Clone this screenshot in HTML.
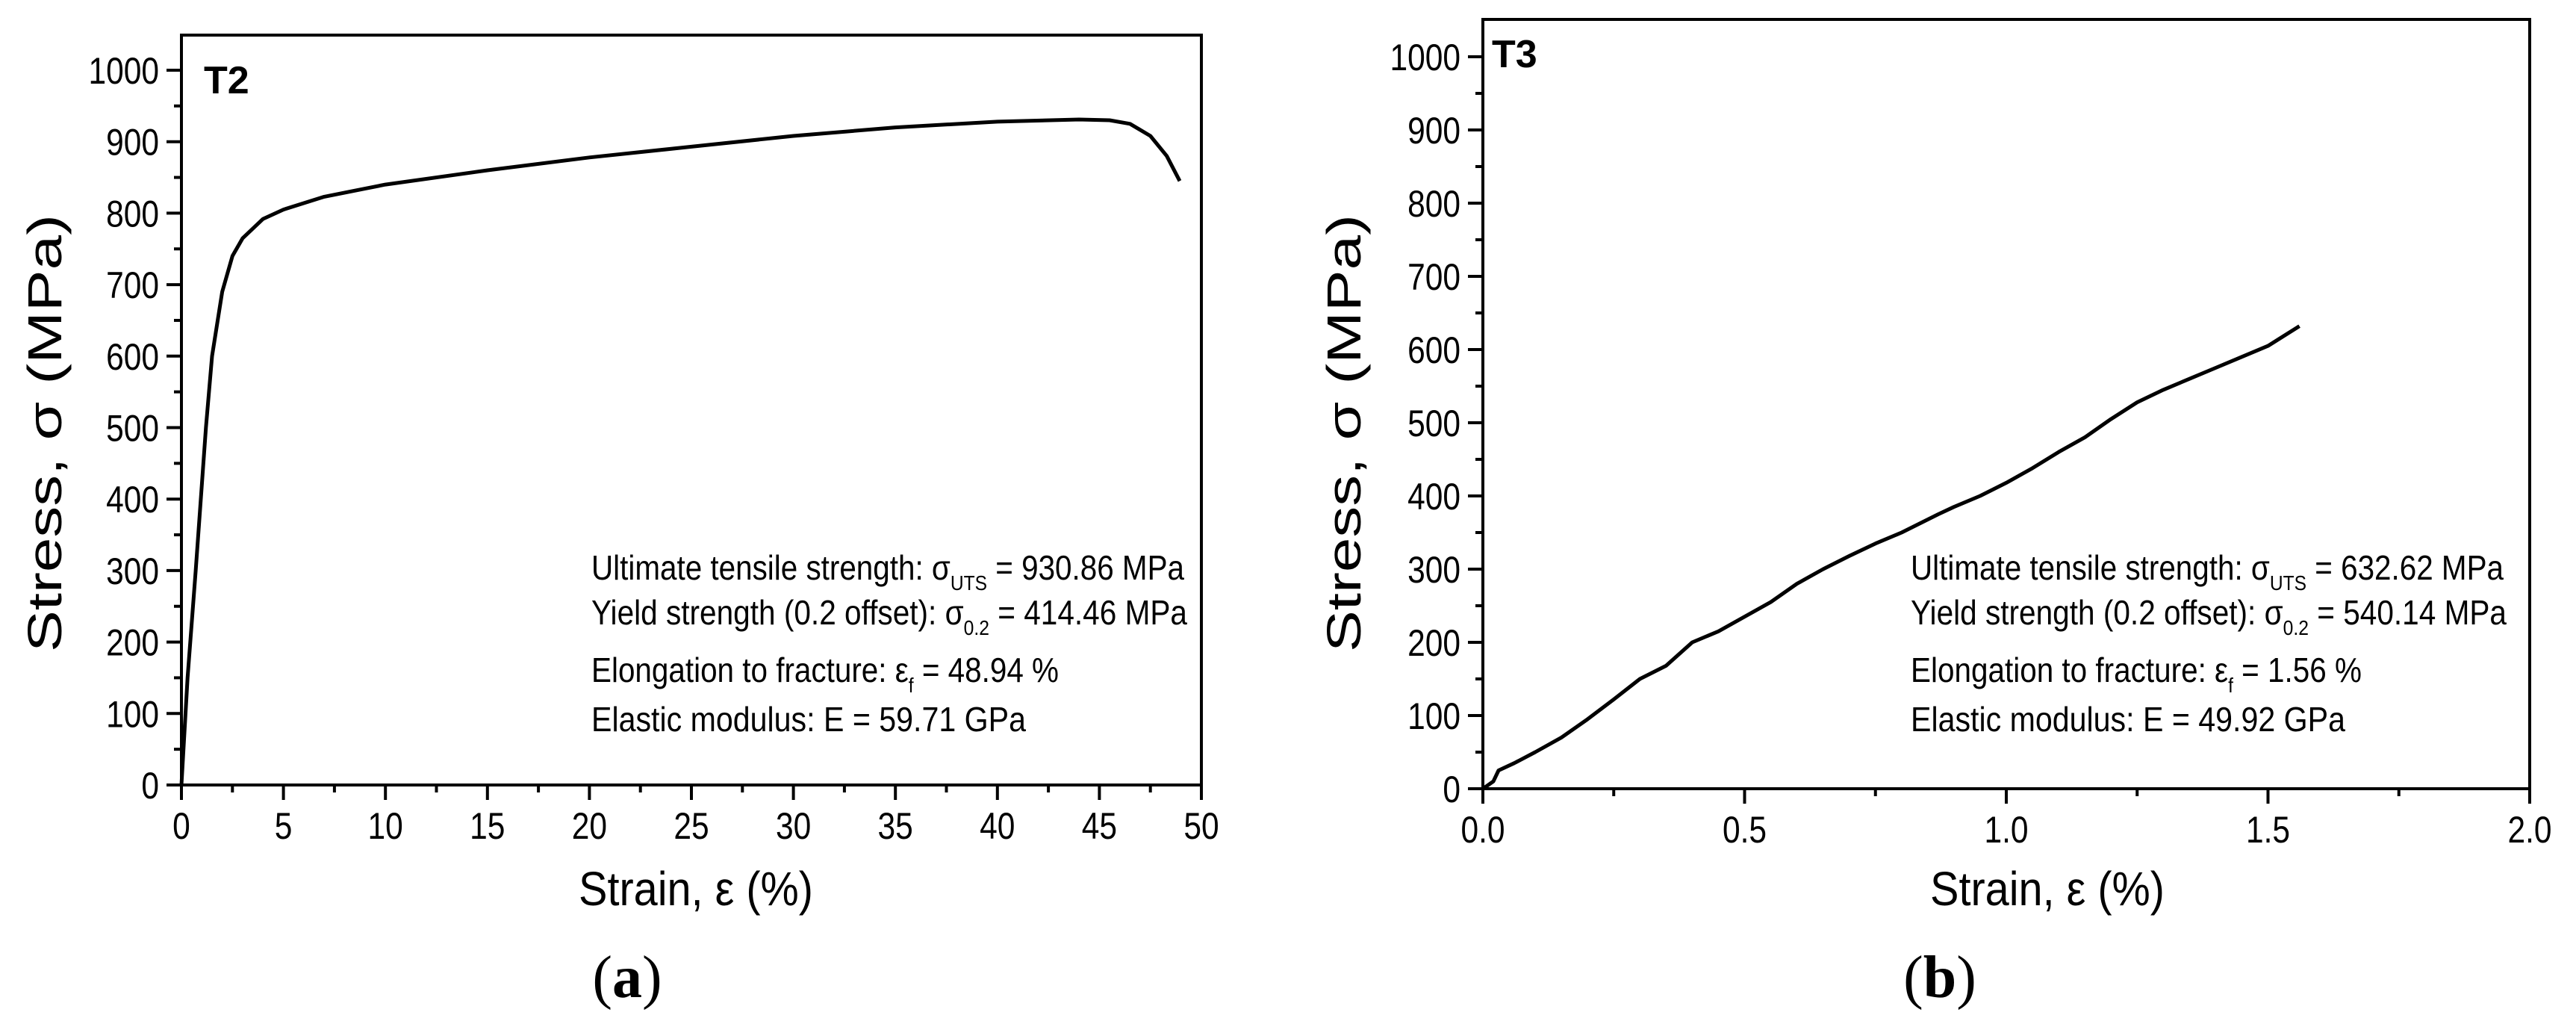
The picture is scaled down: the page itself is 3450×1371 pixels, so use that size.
<!DOCTYPE html>
<html><head><meta charset="utf-8"><style>
html,body{margin:0;padding:0;background:#fff}
svg{display:block}
text{font-family:"Liberation Sans",sans-serif;fill:#000}
</style></head><body>
<svg id="svg" width="3450" height="1371" viewBox="0 0 3450 1371" xmlns="http://www.w3.org/2000/svg">
<g id="pa"></g>
<g id="pb"></g>
</svg>
<script>
const strainA=[0,0.3,0.7,1.2,1.5,2,2.5,3,4,5,7,10,15,20,25,30,35,40,44,45.5,46.5,47.5,48.3,48.94];
const stressA=[0,150,300,500,600,690,740,765,792,805,823,840,860,878,893,908,920,928,931,930,925,908,880,845];
const strainB=[0,0.02,0.03,0.06,0.1,0.15,0.2,0.25,0.3,0.35,0.4,0.45,0.5,0.55,0.6,0.65,0.7,0.75,0.8,0.87,0.9,0.95,1.0,1.05,1.1,1.15,1.2,1.25,1.3,1.35,1.4,1.45,1.5,1.56];
const stressB=[0,10,25,35,50,70,95,122,150,168,200,215,235,255,280,300,318,335,350,375,385,400,418,438,460,480,505,528,545,560,575,590,605,632];
const yTicks=[0,100,200,300,400,500,600,700,800,900,1000];
const xTicksA=[0,5,10,15,20,25,30,35,40,45,50];
const xTicksB=[0,0.5,1.0,1.5,2.0];
const xLabelsB=["0.0","0.5","1.0","1.5","2.0"];
const annA=["Ultimate tensile strength: ","Yield strength (0.2 offset): ","Elongation to fracture: ","Elastic modulus: E = 59.71 GPa"];
const annA2=[["σ","UTS"," = 930.86 MPa"],["σ","0.2"," = 414.46 MPa"],["ε","f"," = 48.94 %"],null];
const annB=["Ultimate tensile strength: ","Yield strength (0.2 offset): ","Elongation to fracture: ","Elastic modulus: E = 49.92 GPa"];
const annB2=[["σ","UTS"," = 632.62 MPa"],["σ","0.2"," = 540.14 MPa"],["ε","f"," = 1.56 %"],null];
const NS="http://www.w3.org/2000/svg";
function mk(tag,attrs,parent){const e=document.createElementNS(NS,tag);for(const k in attrs)e.setAttribute(k,attrs[k]);parent.appendChild(e);return e;}
function squeeze(t,f){const w=t.getComputedTextLength();t.setAttribute('textLength',w*f);t.setAttribute('lengthAdjust','spacingAndGlyphs');}
function fit(t,w){t.setAttribute('textLength',w);t.setAttribute('lengthAdjust','spacingAndGlyphs');}
function panel(g,cfg){
  const X=v=>cfg.x0+(v-cfg.xmin)/(cfg.xmax-cfg.xmin)*(cfg.x1-cfg.x0);
  const Y=v=>cfg.yb-v*cfg.ppu;
  const fr=mk('rect',{x:cfg.x0,y:cfg.yt,width:cfg.x1-cfg.x0,height:cfg.yb-cfg.yt,fill:'none',stroke:'#000','stroke-width':4},g);
  
  
  yTicks.forEach(v=>{
    const l=mk('line',{x1:cfg.x0-20,x2:cfg.x0,y1:Y(v),y2:Y(v),stroke:'#000','stroke-width':4},g);
    
    
    if(v<1000){const m=mk('line',{x1:cfg.x0-10,x2:cfg.x0,y1:Y(v+50),y2:Y(v+50),stroke:'#000','stroke-width':4},g);
      
      }
    const t=mk('text',{x:cfg.x0-30,y:Y(v)+18,'text-anchor':'end','font-size':50},g);
    t.textContent=v;
    
    
    squeeze(t,0.85);
  });
  cfg.xt.forEach((v,i)=>{
    const l=mk('line',{x1:X(v),x2:X(v),y1:cfg.yb,y2:cfg.yb+20,stroke:'#000','stroke-width':4},g);
    
    
    if(i<cfg.xt.length-1){const mv=(v+cfg.xt[i+1])/2;
      const m=mk('line',{x1:X(mv),x2:X(mv),y1:cfg.yb,y2:cfg.yb+10,stroke:'#000','stroke-width':4},g);
      
      }
    const t=mk('text',{x:X(v),y:cfg.yb+72,'text-anchor':'middle','font-size':50},g);
    t.textContent=cfg.xl[i];
    
    
    squeeze(t,0.85);
  });
  const d=cfg.sx.map((v,i)=>(i?'L':'M')+X(v).toFixed(1)+','+Y(cfg.sy[i]).toFixed(1)).join(' ');
  const p=mk('path',{d:d,fill:'none',stroke:'#000','stroke-width':5,'stroke-linejoin':'round'},g);
  
  
  const tl=mk('text',{x:cfg.x0+cfg.tlx,y:cfg.tly,'font-size':52,'font-weight':'bold'},g);
  tl.textContent=cfg.tag;
  
  
  const xt=mk('text',{x:cfg.xtx,y:1212,'text-anchor':'middle','font-size':64},g);
  xt.textContent='Strain, ε (%)';
  
  
  fit(xt,314);
  const yt=mk('text',{x:0,y:0,'text-anchor':'middle','font-size':64,transform:`translate(${cfg.ytx},580) rotate(-90)`},g);
  yt.textContent='Stress, σ (MPa)';
  
  
  fit(yt,cfg.ytw);
  const ys=[776,836,913,979];
  cfg.a1.forEach((s,i)=>{
    const t=mk('text',{x:cfg.ax,y:ys[i],'font-size':46},g);
    
    
    const a=mk('tspan',{},t);a.textContent=s;
    const b=cfg.a2[i];
    if(b){const s1=mk('tspan',{},t);s1.textContent=b[0];
      const s2=mk('tspan',{'font-size':28,dy:14},t);s2.textContent=b[1];
      const s3=mk('tspan',{dy:-14},t);s3.textContent=b[2];}
    fit(t,cfg.aw[i]);
  });
  const c=mk('text',{x:cfg.cx,y:1335,'text-anchor':'middle','font-size':80,style:'font-family:"Liberation Serif",serif'},g);
  
  
  mk('tspan',{},c).textContent='(';
  mk('tspan',{'font-weight':'bold'},c).textContent=cfg.cap;
  mk('tspan',{},c).textContent=')';
}
panel(document.getElementById('pa'),{x0:243,x1:1609,xmin:0,xmax:50,yb:1051,yt:47,ppu:0.957,xt:xTicksA,xl:xTicksA.map(String),sx:strainA,sy:stressA,tag:'T2',tlx:30,tly:125,xtx:932,ytx:82,ytw:586,ax:792,aw:[794,798,626,582],a1:annA,a2:annA2,cx:840,cap:'a'});
panel(document.getElementById('pb'),{x0:1986,x1:3388,xmin:0,xmax:2,yb:1056,yt:26,ppu:0.98,xt:xTicksB,xl:xLabelsB,sx:strainB,sy:stressB,tag:'T3',tlx:12,tly:90,xtx:2742,ytx:1822,ytw:586,ax:2559,aw:[794,798,604,582],a1:annB,a2:annB2,cx:2598,cap:'b'});
</script>
</body></html>
